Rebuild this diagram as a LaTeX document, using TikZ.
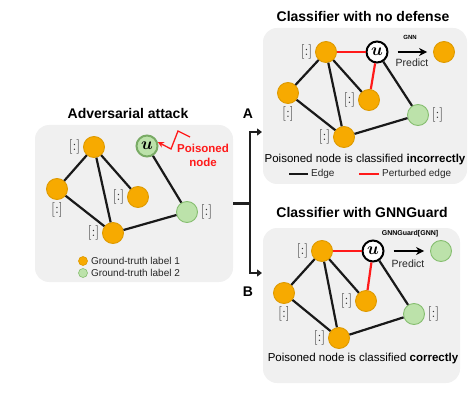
\documentclass[tikz,border=0pt]{standalone}
\usepackage{fontspec}
\setmainfont{Liberation Sans}
\usepackage{bm}
\definecolor{gtorange}{HTML}{F7AA00}
\definecolor{gtorangeline}{HTML}{DE9A00}
\definecolor{gtgreen}{HTML}{BCE2AA}
\definecolor{gtgreenline}{HTML}{86BE70}
\definecolor{panelgray}{HTML}{F0F0F0}
\definecolor{pertred}{HTML}{FF1A1A}
\usetikzlibrary{arrows.meta}
\newcommand{\featvec}{$[{:}]$}

\begin{document}
\begin{tikzpicture}[x=1pt,y=-1pt,label distance=1.5pt,
  panel/.style={fill=panelgray,rounded corners=14pt,inner sep=0pt},
  title/.style={font=\fontsize{14}{16}\selectfont\bfseries},
  gtone/.style={circle,draw=gtorangeline,fill=gtorange,line width=0.9pt,
    minimum size=21pt,inner sep=0pt},
  gttwo/.style={circle,draw=gtgreenline,fill=gtgreen,line width=0.9pt,
    minimum size=21pt,inner sep=0pt},
  target/.style={circle,draw=black,fill=white,line width=2pt,minimum size=21pt,
    inner sep=0pt,font=\fontsize{16}{16}\selectfont},
  vec/.style={inner sep=1pt,font=\fontsize{15}{15}\selectfont,text=black!80},
  caption/.style={font=\fontsize{11.5}{13}\selectfont},
  keytext/.style={anchor=west,inner sep=3pt,font=\fontsize{10}{12}\selectfont,text=black!85},
  edge/.style={line width=2.2pt,black!90},
  pert/.style={line width=2.2pt,pertred},
  predict/.style={-{Stealth[length=8pt,width=8pt]},line width=1.8pt,
    shorten <=9pt,shorten >=6pt},
  fork/.style={line width=2.3pt,black!88},
  every label/.style={vec}]
  \useasboundingbox (0,0) rectangle (468,414);

  % adversarial attack
  \node[title] (advtitle) at (128,113) {Adversarial attack};
  \node[panel,minimum width=198pt,minimum height=157pt] (adv) at (134,203.5) {};
  \node[gtone,label={left:\featvec}]  (la) at (94,147) {};
  \node[gtone,label={below:\featvec}] (lb) at (57,189) {};
  \node[gtone,label={left:\featvec}]  (lc) at (138,197) {};
  \node[gtone,label={left:\featvec}]  (ld) at (113,233) {};
  \node[gttwo,label={right:\featvec}] (le) at (187,212) {};
  \node[target,draw=gtgreenline!90!black,fill=gtgreen] (lu) at (147,146) {$\bm{u}$};
  \draw[edge] (la) -- (lb);
  \draw[edge] (la) -- (lc);
  \draw[edge] (la) -- (ld);
  \draw[edge] (lb) -- (ld);
  \draw[edge] (ld) -- (le);
  \draw[edge] (lu) -- (le);
  \node[text=pertred,align=center,font=\fontsize{11.5}{14}\selectfont\bfseries]
    (poison) at (203,155) {Poisoned\\node};
  \coordinate (bolt) at (190,137);
  \draw[pertred,line width=1.3pt,-{Stealth[length=6pt,width=6pt]}]
    (bolt) -- (178,131) -- (171,149) -- (lu.20);
  \node[gtone,minimum size=9pt,line width=0.6pt] (key1) at (83,261) {};
  \node[gttwo,minimum size=9pt,line width=0.6pt] (key2) at (83,273) {};
  \node[keytext] at (key1.east) {Ground-truth label 1};
  \node[keytext] at (key2.east) {Ground-truth label 2};

  % fork
  \coordinate (fork) at (250,203.5);
  \coordinate (atip) at (262,132);
  \coordinate (btip) at (262,273);
  \draw[fork] (adv.east) -- (fork);
  \draw[fork,-{Triangle[length=5pt,width=7pt]}] (fork) |- (atip);
  \draw[fork,-{Triangle[length=5pt,width=7pt]}] (fork) |- (btip);
  \node[title] (labA) at (248,114) {A};
  \node[title] (labB) at (248,292) {B};

  % no defense
  \node[title] (nodeftitle) at (363,16) {Classifier with no defense};
  \node[panel,minimum width=204pt,minimum height=156pt] (nodef) at (365,106) {};
  \node[gtone,label={left:\featvec}]  (ta) at (326,52) {};
  \node[target] (tu) at (377,52) {$\bm{u}$};
  \node[gtone] (tout) at (444,52) {};
  \node[gtone,label={below:\featvec}] (tb) at (288,93) {};
  \node[gtone,label={left:\featvec}]  (tc) at (369,100) {};
  \node[gtone,label={left:\featvec}]  (td) at (344,137) {};
  \node[gttwo,label={right:\featvec}] (te) at (418,115) {};
  \draw[pert] (ta) -- (tu);
  \draw[pert] (tu) -- (tc);
  \draw[edge] (ta) -- (tb);
  \draw[edge] (ta) -- (tc);
  \draw[edge] (ta) -- (td);
  \draw[edge] (tb) -- (td);
  \draw[edge] (td) -- (te);
  \draw[edge] (tu) -- (te);
  \draw[predict] (tu) -- (tout);
  \node[font=\fontsize{6}{7}\selectfont\bfseries] (tgnn) at (410,37) {GNN};
  \node[font=\fontsize{10.5}{12}\selectfont,text=black!85] (tpred) at (412,63) {Predict};
  \node[caption] (tcap) at (365,160) {Poisoned node is classified \textbf{incorrectly}};
  \node[keytext] (edgekey) at (308,174) {Edge};
  \node[keytext] (pertkey) at (379,174) {Perturbed edge};
  \draw[edge] (edgekey.west) -- ++(-19,0);
  \draw[pert] (pertkey.west) -- ++(-20,0);

  % gnnguard
  \node[title] (guardtitle) at (362,212) {Classifier with GNNGuard};
  \node[panel,minimum width=197pt,minimum height=155pt] (guard) at (361.5,305.5) {};
  \node[gtone,label={left:\featvec}]  (ba) at (322,251) {};
  \node[target] (bu) at (373,251) {$\bm{u}$};
  \node[gttwo] (bout) at (441,251) {};
  \node[gtone,label={below:\featvec}] (bb) at (284,293) {};
  \node[gtone,label={left:\featvec}]  (bc) at (366,301) {};
  \node[gtone,label={left:\featvec}]  (bd) at (339,338) {};
  \node[gttwo,label={right:\featvec}] (be) at (414,314) {};
  \draw[pert] (ba) -- (bu);
  \draw[pert] (bu) -- (bc);
  \draw[edge] (ba) -- (bb);
  \draw[edge] (ba) -- (bc);
  \draw[edge] (ba) -- (bd);
  \draw[edge] (bb) -- (bd);
  \draw[edge] (bd) -- (be);
  \draw[edge] (bu) -- (be);
  \draw[predict] (bu) -- (bout);
  \node[font=\fontsize{7}{8}\selectfont\bfseries] (bgnn) at (410,234) {GNNGuard[GNN]};
  \node[font=\fontsize{10.5}{12}\selectfont,text=black!85] (bpred) at (408,264) {Predict};
  \node[caption] (bcap) at (363,359) {Poisoned node is classified \textbf{correctly}};
\end{tikzpicture}
\end{document}
